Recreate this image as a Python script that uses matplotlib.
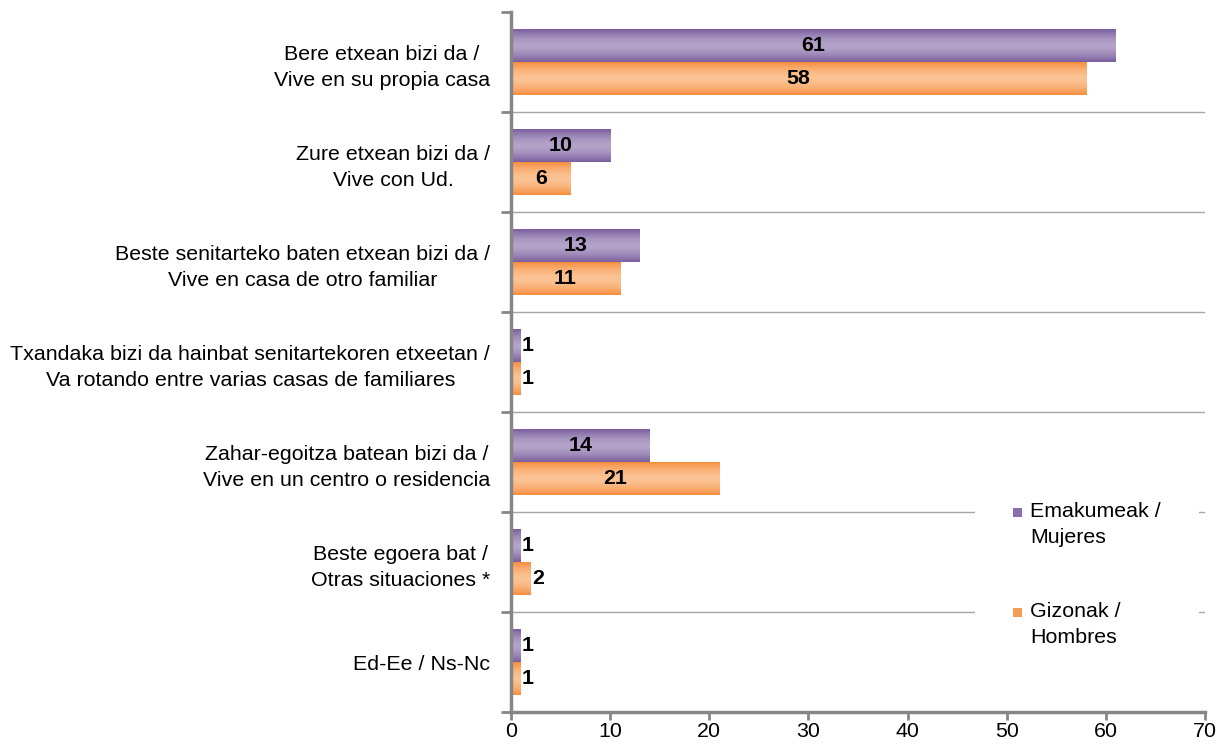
import numpy as np
import matplotlib
matplotlib.use("Agg")
import matplotlib.pyplot as plt
from matplotlib.colors import LinearSegmentedColormap
from matplotlib.patches import Rectangle

plt.rcParams['font.family'] = ['Liberation Sans', 'DejaVu Sans']

categories = [
    "Bere etxean bizi da /\nVive en su propia casa",
    "Zure etxean bizi da /\nVive con Ud.",
    "Beste senitarteko baten etxean bizi da /\nVive en casa de otro familiar",
    "Txandaka bizi da hainbat senitartekoren etxeetan /\nVa rotando entre varias casas de familiares",
    "Zahar-egoitza batean bizi da /\nVive en un centro o residencia",
    "Beste egoera bat /\nOtras situaciones *",
    "Ed-Ee / Ns-Nc",
]
series_names = ["Emakumeak /\nMujeres", "Gizonak /\nHombres"]
women = [61, 10, 13, 1, 14, 1, 1]
men = [58, 6, 11, 1, 21, 2, 1]
xticks = [0, 10, 20, 30, 40, 50, 60, 70]

FS = 15.4
W, H = 1219, 746
fig = plt.figure(figsize=(W / 100, H / 100), dpi=100)
ax = fig.add_axes([511 / W, 1 - 712 / H, (1205 - 511) / W, (712 - 12) / H])

n = len(categories)
y = np.arange(n)
bh = 0.33

cmaps = [
    LinearSegmentedColormap.from_list("p", ["#7a5e9e", "#b4a3c9"]),
    LinearSegmentedColormap.from_list("o", ["#f68f3f", "#fbc394"]),
]
solid = ["#8a6fae", "#f79c55"]

t = np.linspace(0, 1, 64)
prof = 1 - np.abs(2 * t - 1) ** 1.6
grad = prof[:, None]

for si, (vals, off) in enumerate([(women, -bh / 2), (men, bh / 2)]):
    bars = ax.barh(y + off, vals, height=bh, color=solid[si], edgecolor='none', zorder=2)
    for b, v in zip(bars, vals):
        x0, y0 = b.get_x(), b.get_y()
        w, h = b.get_width(), b.get_height()
        im = ax.imshow(grad, cmap=cmaps[si], aspect='auto', extent=[x0, x0 + w, y0 + h, y0],
                       zorder=3, interpolation='bilinear', vmin=0, vmax=1)
        im.set_clip_path(b)
        cy = y0 + h / 2
        if v >= 5:
            ax.text(x0 + w / 2, cy, str(v), ha='center', va='center', fontsize=FS,
                    fontweight='bold', color='black', zorder=5)
        else:
            ax.text(x0 + w + 0.12, cy, str(v), ha='left', va='center', fontsize=FS,
                    fontweight='bold', color='black', zorder=5)

ax.set_xlim(0, 70)
ax.set_ylim(n - 0.5, -0.5)

# gridlines at category boundaries
for b in np.arange(0.5, n - 0.5, 1):
    ax.axhline(b, color='#a6a6a6', lw=1, zorder=1)

ax.set_xticks(xticks)
ax.set_xticklabels([str(v) for v in xticks], fontsize=FS)
ax.tick_params(axis='x', direction='out', length=6, width=2, color='#868686', pad=1)

ax.set_yticks(np.arange(-0.5, n, 1))
ax.set_yticklabels([])
ax.tick_params(axis='y', which='major', direction='out', length=7, width=2, color='#868686')
ax.set_yticks(y, minor=True)
ax.set_yticklabels(categories, minor=True, fontsize=FS, ha='right', multialignment='center',
                   linespacing=1.49)
ax.tick_params(axis='y', which='minor', length=0, pad=15)

for s in ['top', 'right']:
    ax.spines[s].set_visible(False)
for s in ['left', 'bottom']:
    ax.spines[s].set_color('#868686')
    ax.spines[s].set_linewidth(2.5)
    ax.spines[s].set_zorder(6)

# legend (manual, white box covering gridlines)
def fx(px):
    return px / W

def fy(py):
    return 1 - py / H

fig.add_artist(Rectangle((fx(975), fy(662)), fx(1199) - fx(975), fy(494) - fy(662),
                         transform=fig.transFigure, facecolor='white', edgecolor='none', zorder=3))
for i, (name, col) in enumerate(zip(series_names, solid)):
    ytop = 512 + 100 * i
    fig.add_artist(Rectangle((fx(1013), fy(ytop + 4.5)), fx(1022) - fx(1013), fy(ytop - 4.5) - fy(ytop + 4.5),
                             transform=fig.transFigure, facecolor=col, edgecolor='none', zorder=4))
    fig.text(fx(1030), fy(ytop - 10), name, ha='left', va='top', fontsize=FS,
             linespacing=1.49, zorder=5)

fig.savefig("out.png", dpi=100)
